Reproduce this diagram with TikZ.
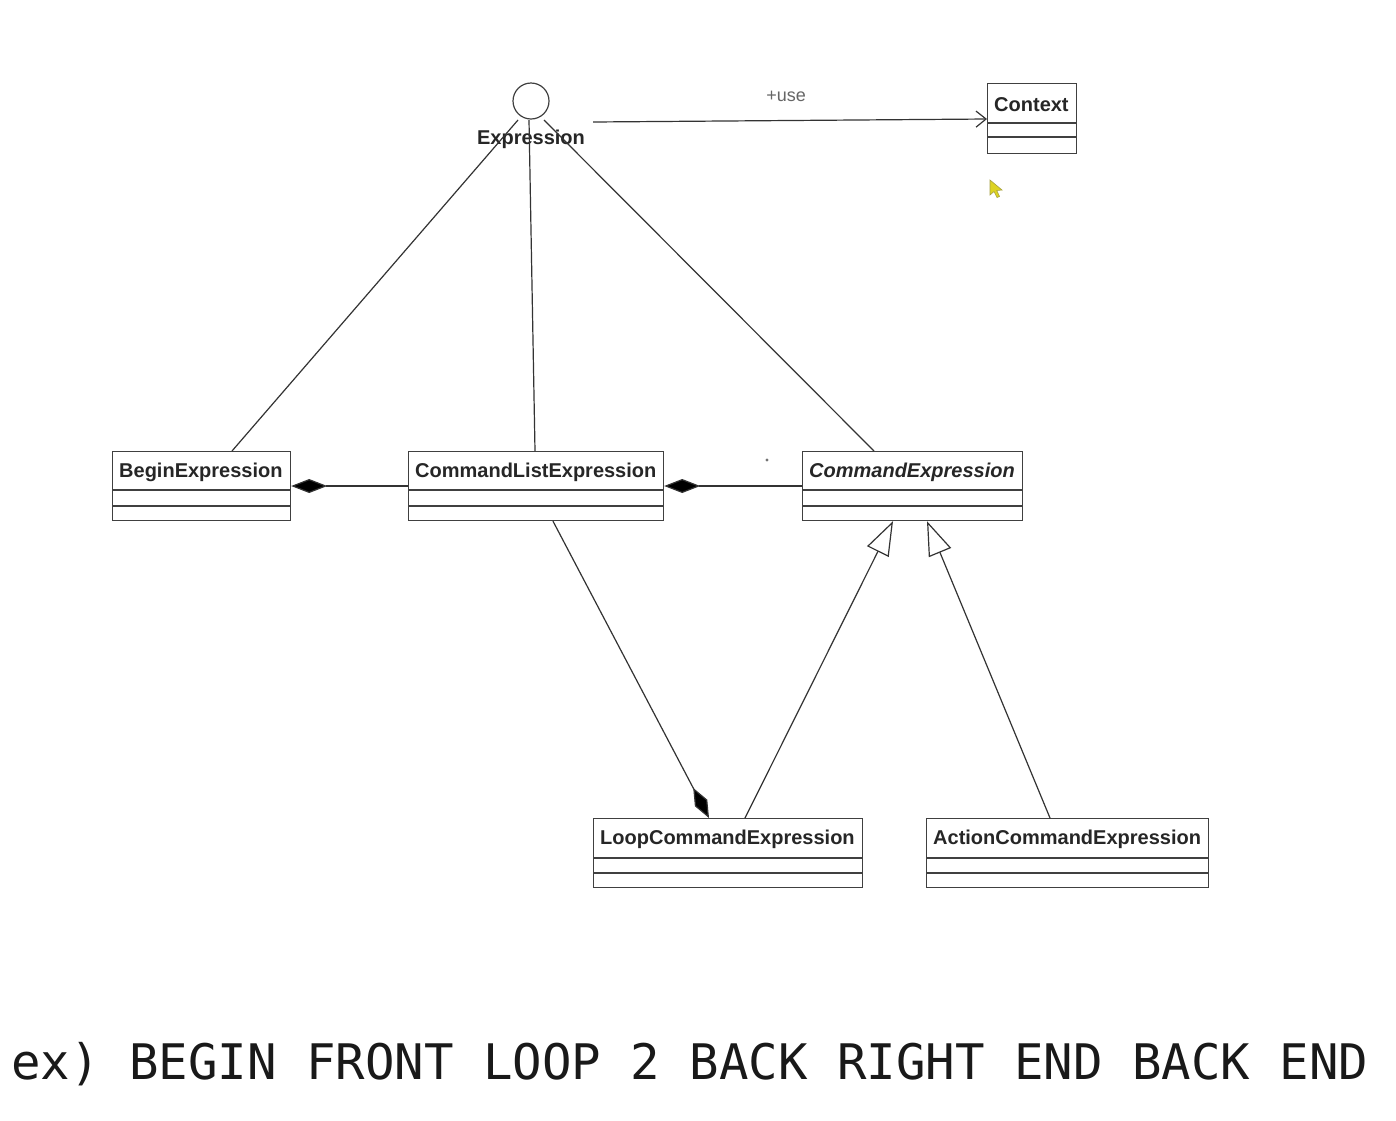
\documentclass[tikz,border=0pt]{standalone}
\usepackage{fontspec}
\setmainfont{Liberation Sans}
\newfontfamily\monofont{DejaVu Sans Mono}
\usetikzlibrary{arrows.meta,calc}
\tikzset{
  clsbox/.style={draw=black!75, line width=1.2pt, rectangle, inner sep=0pt, anchor=north west},
  clslabel/.style={inner sep=0pt, anchor=west, font=\fontsize{20}{24}\selectfont\bfseries, text=black!85},
  divider/.style={draw=black!75, line width=1.2pt},
  conn/.style={draw=black!80, line width=1.2pt},
  compo/.style={conn, {Diamond[fill=black, length=36pt, width=14pt]}-},
  compoend/.style={conn, -{Diamond[fill=black, length=34pt, width=14pt]}},
  gener/.style={conn, -{Triangle[open, fill=white, length=34pt, width=24pt]}},
  usearrow/.style={conn, -{Straight Barb[length=10pt, width=16pt]}},
}
\newcommand{\umlcls}[8]{% name, x, y, width, height, div1, div2, label
  \node[clsbox, minimum width=#4pt, minimum height=#5pt] (#1) at (#2,#3) {};
  \draw[divider] ([yshift=-#6pt]#1.north west) -- ([yshift=-#6pt]#1.north east);
  \draw[divider] ([yshift=-#7pt]#1.north west) -- ([yshift=-#7pt]#1.north east);
  \node[clslabel] (#1L) at ([xshift=7pt, yshift=-#6pt/2-1.5pt]#1.north west) {#8};
}
\begin{document}
\begin{tikzpicture}[x=1pt, y=-1pt]
\useasboundingbox (0,0) rectangle (1396,1120);
\fill[white] (0,0) rectangle (1396,1120);

% interface
\node[circle, draw=black!75, line width=1.2pt, minimum size=36pt, inner sep=0pt] (iface) at (531,101) {};
\node[inner sep=0pt, font=\fontsize{20}{24}\selectfont\bfseries, text=black!85] (ifaceL) at (531,139.5) {Expression};

% classes
\umlcls{context}{987}{83}{89}{70}{40}{54}{Context}
\umlcls{begin}{112}{451}{178}{69}{39}{55}{BeginExpression}
\umlcls{cmdlist}{408}{451}{255}{69}{39}{55}{CommandListExpression}
\umlcls{cmdexp}{802}{451}{220}{69}{39}{55}{\itshape CommandExpression}
\umlcls{loop}{593}{818}{269}{69}{40}{55}{LoopCommandExpression}
\umlcls{action}{926}{818}{282}{69}{40}{55}{ActionCommandExpression}

% realization lines from the interface
\coordinate (iA) at ($(iface.center)+(-13,19)$);
\coordinate (iB) at ($(iface.center)+(-2,19)$);
\coordinate (iC) at ($(iface.center)+(13,19)$);
\coordinate (useS) at ($(iface.center)+(62,21)$);
\draw[conn] (iA) -- ([xshift=120pt]begin.north west);
\draw[conn] (iB) -- ([xshift=127pt]cmdlist.north west);
\draw[conn] (iC) -- ([xshift=72pt]cmdexp.north west);

% use dependency
\draw[usearrow] (useS) -- ([yshift=-36pt]context.north west)
  node[pos=0.49, above=18pt, inner sep=0pt, font=\fontsize{18}{22}\selectfont, text=black!60] (useL) {+use};

% compositions
\draw[compo] ([yshift=-35pt]begin.north east) -- ([yshift=-35pt]cmdlist.north west);
\draw[compo] ([yshift=-35pt]cmdlist.north east) -- ([yshift=-35pt]cmdexp.north west);
\draw[compoend] ([xshift=145pt]cmdlist.south west) -- ([xshift=116pt]loop.north west);

% generalizations
\draw[gener] ([xshift=152pt]loop.north west) -- ([xshift=91pt]cmdexp.south west);
\draw[gener] ([xshift=124pt]action.north west) -- ([xshift=125pt]cmdexp.south west);

% small mark
\fill[black!55] (767,460) circle (1.6pt);

% mouse pointer
\filldraw[fill=yellow!85!black, draw=yellow!60!black, line width=0.6pt]
  (990,180) -- (990,195) -- (994,191.5) -- (997,197.5) -- (999.5,196.5) -- (996.8,190.5) -- (1002,190) -- cycle;

% example text
\node[anchor=base west, inner sep=0pt, font=\monofont\fontsize{49}{58}\selectfont, text=black!90] (example) at (11,1079) {ex) BEGIN FRONT LOOP 2 BACK RIGHT END BACK END};
\end{tikzpicture}
\end{document}
